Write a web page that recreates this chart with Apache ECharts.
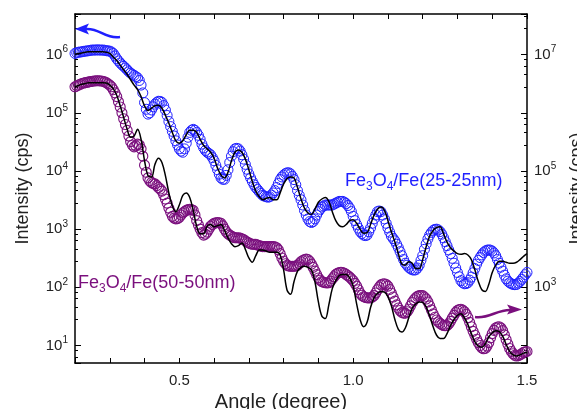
<!DOCTYPE html>
<html>
<head>
<meta charset="utf-8">
<title>XRR Fe3O4/Fe</title>
<script src="https://cdn.jsdelivr.net/npm/echarts@6/dist/echarts.min.js"></script>
<style>
  html, body { margin: 0; padding: 0; background: #fff; }
  #container { width: 577px; height: 409px; }
</style>
</head>
<body>
<div id="container"></div>
<script>
// 测量点的角度 (degree), 步长 0.005
var angleObs = [
  0.200, 0.205, 0.210, 0.215, 0.220, 0.225, 0.230, 0.235, 0.240, 0.245,
  0.250, 0.255, 0.260, 0.265, 0.270, 0.275, 0.280, 0.285, 0.290, 0.295,
  0.300, 0.305, 0.310, 0.315, 0.320, 0.325, 0.330, 0.335, 0.340, 0.345,
  0.350, 0.355, 0.360, 0.365, 0.370, 0.375, 0.380, 0.385, 0.390, 0.395,
  0.400, 0.405, 0.410, 0.415, 0.420, 0.425, 0.430, 0.435, 0.440, 0.445,
  0.450, 0.455, 0.460, 0.465, 0.470, 0.475, 0.480, 0.485, 0.490, 0.495,
  0.500, 0.505, 0.510, 0.515, 0.520, 0.525, 0.530, 0.535, 0.540, 0.545,
  0.550, 0.555, 0.560, 0.565, 0.570, 0.575, 0.580, 0.585, 0.590, 0.595,
  0.600, 0.605, 0.610, 0.615, 0.620, 0.625, 0.630, 0.635, 0.640, 0.645,
  0.650, 0.655, 0.660, 0.665, 0.670, 0.675, 0.680, 0.685, 0.690, 0.695,
  0.700, 0.705, 0.710, 0.715, 0.720, 0.725, 0.730, 0.735, 0.740, 0.745,
  0.750, 0.755, 0.760, 0.765, 0.770, 0.775, 0.780, 0.785, 0.790, 0.795,
  0.800, 0.805, 0.810, 0.815, 0.820, 0.825, 0.830, 0.835, 0.840, 0.845,
  0.850, 0.855, 0.860, 0.865, 0.870, 0.875, 0.880, 0.885, 0.890, 0.895,
  0.900, 0.905, 0.910, 0.915, 0.920, 0.925, 0.930, 0.935, 0.940, 0.945,
  0.950, 0.955, 0.960, 0.965, 0.970, 0.975, 0.980, 0.985, 0.990, 0.995,
  1.000, 1.005, 1.010, 1.015, 1.020, 1.025, 1.030, 1.035, 1.040, 1.045,
  1.050, 1.055, 1.060, 1.065, 1.070, 1.075, 1.080, 1.085, 1.090, 1.095,
  1.100, 1.105, 1.110, 1.115, 1.120, 1.125, 1.130, 1.135, 1.140, 1.145,
  1.150, 1.155, 1.160, 1.165, 1.170, 1.175, 1.180, 1.185, 1.190, 1.195,
  1.200, 1.205, 1.210, 1.215, 1.220, 1.225, 1.230, 1.235, 1.240, 1.245,
  1.250, 1.255, 1.260, 1.265, 1.270, 1.275, 1.280, 1.285, 1.290, 1.295,
  1.300, 1.305, 1.310, 1.315, 1.320, 1.325, 1.330, 1.335, 1.340, 1.345,
  1.350, 1.355, 1.360, 1.365, 1.370, 1.375, 1.380, 1.385, 1.390, 1.395,
  1.400, 1.405, 1.410, 1.415, 1.420, 1.425, 1.430, 1.435, 1.440, 1.445,
  1.450, 1.455, 1.460, 1.465, 1.470, 1.475, 1.480, 1.485, 1.490, 1.495,
  1.500
];

// 拟合曲线的角度 (degree), 步长 0.01
var angleFit = [
  0.20, 0.21, 0.22, 0.23, 0.24, 0.25, 0.26, 0.27, 0.28, 0.29,
  0.30, 0.31, 0.32, 0.33, 0.34, 0.35, 0.36, 0.37, 0.38, 0.39,
  0.40, 0.41, 0.42, 0.43, 0.44, 0.45, 0.46, 0.47, 0.48, 0.49,
  0.50, 0.51, 0.52, 0.53, 0.54, 0.55, 0.56, 0.57, 0.58, 0.59,
  0.60, 0.61, 0.62, 0.63, 0.64, 0.65, 0.66, 0.67, 0.68, 0.69,
  0.70, 0.71, 0.72, 0.73, 0.74, 0.75, 0.76, 0.77, 0.78, 0.79,
  0.80, 0.81, 0.82, 0.83, 0.84, 0.85, 0.86, 0.87, 0.88, 0.89,
  0.90, 0.91, 0.92, 0.93, 0.94, 0.95, 0.96, 0.97, 0.98, 0.99,
  1.00, 1.01, 1.02, 1.03, 1.04, 1.05, 1.06, 1.07, 1.08, 1.09,
  1.10, 1.11, 1.12, 1.13, 1.14, 1.15, 1.16, 1.17, 1.18, 1.19,
  1.20, 1.21, 1.22, 1.23, 1.24, 1.25, 1.26, 1.27, 1.28, 1.29,
  1.30, 1.31, 1.32, 1.33, 1.34, 1.35, 1.36, 1.37, 1.38, 1.39,
  1.40, 1.41, 1.42, 1.43, 1.44, 1.45, 1.46, 1.47, 1.48, 1.49,
  1.50
];

// Fe3O4/Fe(25-25nm) 测量值 (左轴, cps)
var obs25 = [
  1.05e6, 1.08e6, 1.10e6, 1.11e6, 1.12e6, 1.14e6, 1.15e6, 1.16e6, 1.17e6, 1.19e6,
  1.20e6, 1.20e6, 1.20e6, 1.21e6, 1.20e6, 1.20e6, 1.20e6, 1.19e6, 1.17e6, 1.16e6,
  1.15e6, 1.11e6, 1.05e6, 9.5e5, 8.5e5, 7.8e5, 7.2e5, 6.7e5, 6.3e5, 5.9e5,
  5.5e5, 5.1e5, 4.8e5, 4.6e5, 4.4e5, 4.2e5, 4.0e5, 3.6e5, 3.0e5, 2.2e5,
  1.5e5, 1.15e5, 9.5e4, 1.0e5, 1.12e5, 1.27e5, 1.41e5, 1.51e5, 1.58e5, 1.57e5,
  1.51e5, 1.33e5, 1.12e5, 9.0e4, 7.1e4, 5.8e4, 4.8e4, 4.0e4, 3.3e4, 2.8e4,
  2.4e4, 2.2e4, 2.1e4, 2.4e4, 3.0e4, 3.8e4, 4.6e4, 5.0e4, 5.2e4, 5.0e4,
  4.6e4, 4.1e4, 3.5e4, 2.9e4, 2.5e4, 2.25e4, 2.1e4, 2.0e4, 1.9e4, 1.7e4,
  1.5e4, 1.25e4, 1.05e4, 8.8e3, 7.6e3, 7.2e3, 7.2e3, 8.4e3, 1.05e4, 1.4e4,
  1.8e4, 2.15e4, 2.4e4, 2.45e4, 2.4e4, 2.2e4, 1.9e4, 1.6e4, 1.3e4, 1.07e4,
  8.9e3, 7.6e3, 6.6e3, 5.8e3, 5.2e3, 4.8e3, 4.4e3, 4.1e3, 3.8e3, 3.7e3,
  3.6e3, 3.55e3, 3.6e3, 3.85e3, 4.2e3, 4.6e3, 5.2e3, 6.1e3, 7.1e3, 7.9e3,
  8.5e3, 9.0e3, 9.3e3, 9.3e3, 8.9e3, 8.1e3, 7.1e3, 5.8e3, 4.6e3, 3.8e3,
  3.2e3, 2.6e3, 2.1e3, 1.75e3, 1.5e3, 1.35e3, 1.3e3, 1.35e3, 1.5e3, 1.75e3,
  2.0e3, 2.2e3, 2.4e3, 2.5e3, 2.6e3, 2.6e3, 2.6e3, 2.6e3, 2.6e3, 2.7e3,
  2.8e3, 2.9e3, 3.0e3, 3.0e3, 3.0e3, 2.9e3, 2.75e3, 2.55e3, 2.3e3, 2.0e3,
  1.66e3, 1.4e3, 1.2e3, 1.04e3, 910, 840, 790, 775, 790, 900,
  1.05e3, 1.26e3, 1.5e3, 1.75e3, 2.0e3, 2.05e3, 2.0e3, 1.75e3, 1.5e3, 1.26e3,
  1.05e3, 890, 760, 690, 630, 550, 480, 410, 350, 300,
  260, 240, 220, 208, 200, 198, 200, 215, 240, 290,
  350, 450, 560, 680, 790, 880, 950, 990, 1000, 970,
  910, 820, 710, 610, 520, 440, 380, 315, 260, 215,
  180, 152, 130, 120, 115, 116, 120, 133, 150, 178,
  210, 250, 290, 325, 360, 395, 420, 435, 440, 435,
  420, 390, 350, 300, 260, 222, 190, 162, 140, 128,
  120, 115, 112, 111, 112, 118, 126, 137, 150, 165,
  180
];

// Fe3O4/Fe(25-25nm) 拟合 (左轴)
var fit25 = [
  1.02e6, 1.05e6, 1.07e6, 1.10e6, 1.12e6, 1.12e6, 1.12e6, 1.12e6, 1.12e6, 1.10e6,
  1.05e6, 9.1e5, 7.9e5, 6.6e5, 5.5e5, 4.6e5, 3.7e5, 3.0e5, 2.5e5, 1.9e5,
  1.32e5, 1.1e5, 1.2e5, 1.32e5, 1.35e5, 1.2e5, 9.1e4, 6.6e4, 4.6e4, 3.3e4,
  3.0e4, 3.3e4, 4.2e4, 5.0e4, 5.0e4, 4.6e4, 3.5e4, 2.75e4, 2.4e4, 2.1e4,
  1.66e4, 1.12e4, 8.5e3, 7.6e3, 9.5e3, 1.5e4, 2.1e4, 2.3e4, 2.1e4, 1.6e4,
  1.05e4, 6.6e3, 4.5e3, 3.6e3, 3.2e3, 3.4e3, 3.5e3, 3.2e3, 3.2e3, 4.2e3,
  6.0e3, 7.4e3, 7.9e3, 7.6e3, 5.2e3, 3.3e3, 2.3e3, 1.9e3, 1.8e3, 2.2e3,
  2.9e3, 3.3e3, 3.5e3, 3.0e3, 2.0e3, 1.4e3, 1.15e3, 1.1e3, 1.2e3, 1.4e3,
  1.45e3, 1.26e3, 1.0e3, 850, 870, 1.2e3, 1.74e3, 2.2e3, 2.4e3, 2.1e3,
  1.4e3, 890, 600, 380, 250, 240, 275, 260, 210, 210,
  300, 500, 760, 950, 1070, 1100, 830, 600, 480, 420,
  380, 370, 380, 360, 300, 200, 126, 91, 85, 112,
  180, 240, 280, 280, 270, 260, 260, 270, 300, 340,
  380
];

// Fe3O4/Fe(50-50nm) 测量值 (右轴, cps)
var obs50 = [
  2.8e6, 2.9e6, 3.0e6, 3.1e6, 3.2e6, 3.25e6, 3.3e6, 3.35e6, 3.4e6, 3.45e6,
  3.5e6, 3.52e6, 3.55e6, 3.56e6, 3.55e6, 3.53e6, 3.5e6, 3.4e6, 3.3e6, 3.15e6,
  3.0e6, 2.8e6, 2.5e6, 2.2e6, 1.9e6, 1.55e6, 1.26e6, 1.0e6, 7.9e5, 6.3e5,
  5.0e5, 4.0e5, 3.2e5, 2.8e5, 2.6e5, 2.7e5, 2.9e5, 2.8e5, 2.4e5, 1.8e5,
  1.26e5, 9.5e4, 7.6e4, 6.8e4, 6.3e4, 6.1e4, 6.0e4, 5.6e4, 5.2e4, 4.9e4,
  4.5e4, 3.9e4, 3.3e4, 2.8e4, 2.3e4, 1.95e4, 1.66e4, 1.55e4, 1.5e4, 1.52e4,
  1.6e4, 1.75e4, 1.9e4, 2.0e4, 2.1e4, 2.17e4, 2.2e4, 2.17e4, 2.1e4, 1.75e4,
  1.4e4, 1.18e4, 1.0e4, 8.7e3, 7.9e3, 8.2e3, 8.9e3, 1.0e4, 1.12e4, 1.2e4,
  1.26e4, 1.29e4, 1.3e4, 1.29e4, 1.26e4, 1.14e4, 1.0e4, 9.0e3, 8.3e3, 7.9e3,
  7.6e3, 7.3e3, 7.1e3, 7.1e3, 7.1e3, 7.0e3, 6.8e3, 6.6e3, 6.3e3, 6.0e3,
  5.8e3, 5.6e3, 5.5e3, 5.5e3, 5.5e3, 5.35e3, 5.2e3, 5.1e3, 5.0e3, 5.0e3,
  5.0e3, 5.0e3, 5.0e3, 5.0e3, 5.0e3, 4.95e3, 4.8e3, 4.4e3, 3.8e3, 3.2e3,
  2.8e3, 2.55e3, 2.4e3, 2.33e3, 2.3e3, 2.3e3, 2.3e3, 2.33e3, 2.4e3, 2.55e3,
  2.75e3, 2.9e3, 3.0e3, 3.05e3, 3.0e3, 2.8e3, 2.5e3, 2.2e3, 1.9e3, 1.65e3,
  1.45e3, 1.33e3, 1.26e3, 1.22e3, 1.2e3, 1.19e3, 1.2e3, 1.28e3, 1.4e3, 1.52e3,
  1.66e3, 1.75e3, 1.8e3, 1.82e3, 1.8e3, 1.75e3, 1.66e3, 1.58e3, 1.5e3, 1.4e3,
  1.3e3, 1.17e3, 1.05e3, 910, 790, 730, 690, 670, 660, 655,
  660, 680, 720, 800, 910, 1.01e3, 1.1e3, 1.14e3, 1.15e3, 1.12e3,
  1.05e3, 920, 790, 680, 580, 500, 440, 400, 370, 360,
  360, 380, 420, 480, 550, 610, 660, 700, 720, 725,
  720, 680, 630, 560, 480, 410, 350, 305, 275, 255,
  240, 228, 220, 218, 220, 235, 260, 295, 330, 370,
  400, 415, 420, 405, 380, 345, 300, 250, 210, 175,
  150, 128, 112, 100, 91, 88, 89, 98, 112, 135,
  160, 182, 200, 208, 210, 200, 180, 152, 126, 105,
  89, 79, 72, 68, 66, 67, 69, 72, 76, 78,
  79
];

// Fe3O4/Fe(50-50nm) 拟合 (右轴)
var fit50 = [
  2.8e6, 2.95e6, 3.1e6, 3.2e6, 3.3e6, 3.3e6, 3.3e6, 3.3e6, 3.3e6, 3.25e6,
  3.0e6, 2.6e6, 2.0e6, 1.32e6, 8.3e5, 5.2e5, 3.8e5, 4.0e5, 5.2e5, 3.5e5,
  1.5e5, 8.3e4, 7.9e4, 1.3e5, 1.66e5, 1.4e5, 8.3e4, 4.2e4, 2.5e4, 2.0e4,
  2.6e4, 3.8e4, 4.2e4, 3.5e4, 2.1e4, 1.12e4, 8.3e3, 8.3e3, 1.12e4, 1.2e4,
  1.1e4, 1.15e4, 1.2e4, 9.5e3, 7.1e3, 5.6e3, 5.0e3, 5.2e3, 5.8e3, 4.5e3,
  3.2e3, 2.7e3, 3.5e3, 4.4e3, 4.4e3, 4.2e3, 4.0e3, 4.0e3, 4.0e3, 3.6e3,
  2.0e3, 890, 760, 1.26e3, 1.9e3, 2.2e3, 2.3e3, 2.2e3, 2.0e3, 1.26e3,
  560, 320, 290, 500, 950, 1.3e3, 1.6e3, 1.66e3, 1.66e3, 1.45e3,
  1.05e3, 520, 280, 210, 250, 450, 660, 790, 850, 830,
  690, 480, 280, 190, 170, 200, 300, 440, 520, 560,
  550, 460, 320, 210, 150, 132, 132, 160, 220, 280,
  330, 350, 300, 230, 160, 117, 98, 93, 107, 140,
  166, 180, 174, 145, 105, 79, 69, 66, 69, 74,
  76
];

// 刻度标签
var xTickLabels = ['0.5', '1.0', '1.5'];
var leftExponents = [1, 2, 3, 4, 5, 6];
var rightExponents = [3, 5, 7];

var BLUE = '#1f1fff';
var PURPLE = '#7a0f7d';
var FONT = 'Arial, "Liberation Sans", sans-serif';

function pairs(xs, ys) {
    return xs.map(function (a, i) { return [a, ys[i]]; });
}

// 10^n 形式的标签, 只显示指定的指数
function powLabel(exps) {
    return function (v) {
        var e = Math.round(Math.log(v) / Math.LN10);
        if (Math.abs(v - Math.pow(10, e)) > 1e-6 * v) return '';
        if (exps.indexOf(e) < 0) return '';
        return '{b|10}{s|' + e + '}';
    };
}

var labelRich = {
    b: { fontSize: 15, lineHeight: 20, fontFamily: FONT, color: '#222' },
    s: { fontSize: 10, lineHeight: 11, verticalAlign: 'top', fontFamily: FONT, color: '#222' }
};

function yAxisOpt(pos, min, max, exps) {
    return {
        type: 'log',
        logBase: 10,
        position: pos,
        min: min,
        max: max,
        name: 'Intensity (cps)',
        nameLocation: 'middle',
        nameRotate: 90,
        nameGap: pos === 'left' ? 43 : 41,
        nameTextStyle: { fontSize: 18, fontFamily: FONT, color: '#222' },
        axisLine: { show: true, lineStyle: { color: '#000', width: 1.5 } },
        axisTick: { show: true, inside: true, length: 6, lineStyle: { color: '#000', width: 1 } },
        minorTick: { show: true, splitNumber: 5, length: 3, lineStyle: { color: '#000', width: 1 } },
        axisLabel: { formatter: powLabel(exps), rich: labelRich, margin: 7, showMinLabel: false, showMaxLabel: false },
        splitLine: { show: false }
    };
}

function textRich(color) {
    return {
        n: { fontSize: 18, lineHeight: 24, fontFamily: FONT, fill: color },
        s: { fontSize: 12, lineHeight: 12, verticalAlign: 'bottom', fontFamily: FONT, fill: color }
    };
}

var myChart = echarts.init(document.getElementById('container'));

var option = {
    animation: false,
    backgroundColor: '#fff',
    // 固定绘图区, 右侧轴名允许被裁掉
    grid: { left: 75, right: 50, top: 14, bottom: 46, containLabel: false, outerBoundsMode: 'none' },
    xAxis: [
        {
            type: 'value',
            min: 0.2,
            max: 1.5,
            interval: 0.1,
            name: 'Angle (degree)',
            nameLocation: 'middle',
            nameGap: 27,
            nameTextStyle: { fontSize: 20, fontFamily: FONT, color: '#222', padding: [0, 40, 0, 0] },
            axisLine: { lineStyle: { color: '#000', width: 1.5 } },
            axisTick: { inside: true, length: 5, lineStyle: { color: '#000' } },
            axisLabel: {
                fontSize: 15, fontFamily: FONT, color: '#222', margin: 10,
                formatter: function (v) {
                    var s = v.toFixed(1);
                    return xTickLabels.indexOf(s) >= 0 ? s : '';
                }
            },
            splitLine: { show: false }
        },
        {
            type: 'value',
            position: 'top',
            min: 0.2,
            max: 1.5,
            interval: 0.1,
            axisLine: { lineStyle: { color: '#000', width: 1.5 } },
            axisTick: { inside: true, length: 5, lineStyle: { color: '#000' } },
            axisLabel: { show: false },
            splitLine: { show: false }
        }
    ],
    yAxis: [
        yAxisOpt('left', 5, 5e6, leftExponents),
        yAxisOpt('right', 50, 5e7, rightExponents)
    ],
    series: [
        {
            name: 'Fe3O4/Fe(25-25nm)',
            type: 'scatter',
            yAxisIndex: 0,
            data: pairs(angleObs, obs25),
            symbol: 'circle',
            symbolSize: 10,
            itemStyle: { color: 'rgba(0,0,0,0)', borderColor: BLUE, borderWidth: 1, opacity: 1 },
            silent: true,
            z: 2
        },
        {
            name: 'Fe3O4/Fe(50-50nm)',
            type: 'scatter',
            yAxisIndex: 1,
            data: pairs(angleObs, obs50),
            symbol: 'circle',
            symbolSize: 10,
            itemStyle: { color: 'rgba(0,0,0,0)', borderColor: PURPLE, borderWidth: 1.1, opacity: 1 },
            silent: true,
            z: 2
        },
        {
            name: 'fit 25-25',
            type: 'line',
            yAxisIndex: 0,
            data: pairs(angleFit, fit25),
            showSymbol: false,
            smooth: 0.35,
            lineStyle: { color: '#000', width: 1.5 },
            silent: true,
            z: 3
        },
        {
            name: 'fit 50-50',
            type: 'line',
            yAxisIndex: 1,
            data: pairs(angleFit, fit50),
            showSymbol: false,
            smooth: 0.35,
            lineStyle: { color: '#000', width: 1.5 },
            silent: true,
            z: 3
        }
    ],
    graphic: [
        // 标注文字
        {
            type: 'text', x: 345, y: 181, z: 10,
            style: {
                text: '{n|Fe}{s|3}{n|O}{s|4}{n|/Fe(25-25nm)}',
                rich: textRich(BLUE), verticalAlign: 'middle', align: 'left'
            }
        },
        {
            type: 'text', x: 78, y: 283, z: 10,
            style: {
                text: '{n|Fe}{s|3}{n|O}{s|4}{n|/Fe(50-50nm)}',
                rich: textRich(PURPLE), verticalAlign: 'middle', align: 'left'
            }
        },
        // 左箭头 (蓝) -> 左轴
        {
            type: 'bezierCurve', z: 10,
            shape: { x1: 120, y1: 37, cpx1: 105, cpy1: 39, cpx2: 100, cpy2: 28, x2: 86, y2: 29 },
            style: { stroke: BLUE, lineWidth: 2.5, fill: null }
        },
        {
            type: 'polygon', z: 10,
            shape: { points: [[75, 29], [89, 23.5], [86, 29], [89, 34.5]] },
            style: { fill: BLUE }
        },
        // 右箭头 (紫) -> 右轴
        {
            type: 'bezierCurve', z: 10,
            shape: { x1: 475, y1: 317, cpx1: 489, cpy1: 319, cpx2: 496, cpy2: 310, x2: 510, y2: 310 },
            style: { stroke: PURPLE, lineWidth: 2.5, fill: null }
        },
        {
            type: 'polygon', z: 10,
            shape: { points: [[522, 309.5], [507, 304.5], [510, 309.5], [507, 314.5]] },
            style: { fill: PURPLE }
        }
    ]
};

myChart.setOption(option);
</script>
</body>
</html>
